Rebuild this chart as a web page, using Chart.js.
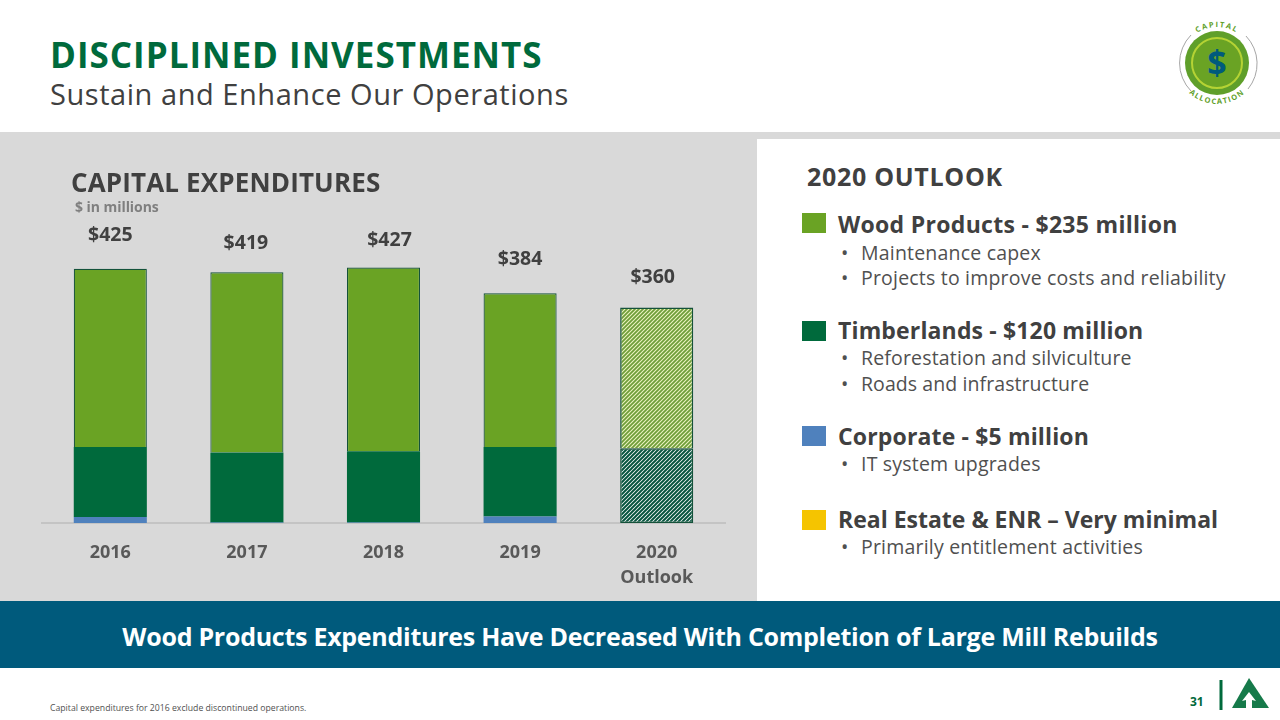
<!DOCTYPE html>
<html><head><meta charset="utf-8">
<script src="https://cdn.jsdelivr.net/npm/chart.js@4"></script>
<style>
html,body{margin:0;padding:0;background:#fff;width:1280px;height:720px;overflow:hidden;font-family:"Open Sans",sans-serif}
.a{position:absolute;white-space:nowrap}
#chartWrap{position:absolute;left:0;top:132px;width:757px;height:469px}
.sq{position:absolute;left:802px;width:24px;height:20px}
.h{left:838px;font-size:23px;font-weight:700;color:#404040;line-height:30px;letter-spacing:.3px}
.b{left:861px;font-size:19.5px;color:#505050;line-height:26px;letter-spacing:.2px}
.b:before{content:"•";position:absolute;left:-20px}
</style></head><body>
<div class="a" style="left:0;top:132px;width:1280px;height:7px;background:#d9d9d9"></div>
<div class="a" style="left:0;top:132px;width:757px;height:469px;background:#d9d9d9"></div>
<div class="a" style="left:0;top:601px;width:1280px;height:67px;background:#005a7c"></div>

<div class="a" id="t1" style="left:50px;top:31px;font-size:35px;font-weight:700;color:#006a3c;line-height:48px;letter-spacing:1px">DISCIPLINED INVESTMENTS</div>
<div class="a" id="t2" style="left:50px;top:74px;font-size:29px;color:#404040;line-height:40px;letter-spacing:.55px">Sustain and Enhance Our Operations</div>

<div id="chartWrap"><canvas id="c" width="757" height="469"></canvas></div>
<div class="a" style="left:71px;top:165px;font-size:26px;font-weight:700;color:#404040;line-height:34px;letter-spacing:.15px">CAPITAL EXPENDITURES</div>
<div class="a" style="left:75px;top:197px;font-size:14px;font-weight:700;color:#7f7f7f;line-height:20px;letter-spacing:-.05px">$ in millions</div>

<div class="a" style="left:807px;top:159px;font-size:25px;font-weight:700;color:#404040;line-height:34px;letter-spacing:.7px">2020 OUTLOOK</div>
<div class="sq" style="top:213px;background:#6aa324"></div>
<div class="a h" style="top:209px">Wood Products - $235 million</div>
<div class="a b" style="top:240px">Maintenance capex</div>
<div class="a b" style="top:265px">Projects to improve costs and reliability</div>
<div class="sq" style="top:321px;background:#006a3c"></div>
<div class="a h" style="top:315px;letter-spacing:.15px">Timberlands - $120 million</div>
<div class="a b" style="top:345px;letter-spacing:.17px">Reforestation and silviculture</div>
<div class="a b" style="top:371px;letter-spacing:.08px">Roads and infrastructure</div>
<div class="sq" style="top:426px;background:#4f81bd"></div>
<div class="a h" style="top:421px;letter-spacing:.15px">Corporate - $5 million</div>
<div class="a b" style="top:451px">IT system upgrades</div>
<div class="sq" style="top:510px;background:#f5c400"></div>
<div class="a h" style="top:504px;letter-spacing:0">Real Estate &amp; ENR – Very minimal</div>
<div class="a b" style="top:534px">Primarily entitlement activities</div>

<div class="a" style="left:0;width:1280px;top:601px;height:71px;line-height:71px;text-align:center;font-size:25px;font-weight:700;color:#fff;letter-spacing:-.27px">Wood Products Expenditures Have Decreased With Completion of Large Mill Rebuilds</div>
<div class="a" style="left:50px;top:701px;font-size:8.7px;color:#505050;line-height:14px">Capital expenditures for 2016 exclude discontinued operations.</div>
<div class="a" style="left:1190px;top:693px;font-size:12px;font-weight:700;color:#006a3c;line-height:18px">31</div>

<svg class="a" style="left:1170px;top:15px" width="100" height="100" viewBox="0 0 100 100">
  <path d="M21 20 A40 40 0 0 0 21 76" fill="none" stroke="#a6a6a6" stroke-width="1"/>
  <path d="M76 21 A40 40 0 0 1 78 74" fill="none" stroke="#a6a6a6" stroke-width="1"/>
  <circle cx="47" cy="48" r="32" fill="#5f9f2a"/>
  <circle cx="47" cy="48" r="25" fill="#6aa324" stroke="#b5d334" stroke-width="2"/>
  <text x="47" y="60" text-anchor="middle" font-family="Open Sans" font-weight="700" font-size="34" fill="#005a7c">$</text>
  <path id="arcT" d="M11 48 A36 36 0 0 1 83 48" fill="none"/>
  <path id="arcB" d="M6 48 A41 41 0 0 0 88 48" fill="none"/>
  <text font-family="Open Sans" font-weight="700" font-size="7.5" letter-spacing="1.6" fill="#5f9f2a" text-anchor="middle"><textPath href="#arcT" startOffset="50%">CAPITAL</textPath></text>
  <text font-family="Open Sans" font-weight="700" font-size="7.5" letter-spacing="1.3" fill="#5f9f2a" text-anchor="middle"><textPath href="#arcB" startOffset="50%">ALLOCATION</textPath></text>
</svg>
<svg class="a" style="left:1215px;top:675px" width="60" height="40" viewBox="0 0 60 40">
  <rect x="4.5" y="5" width="3" height="30" fill="#006a3c"/>
  <path d="M34 3 L54 33 L17 33 Z" fill="#167a4a"/>
  <path d="M34 17 L41 26 L37 25 L37 33 L31 33 L31 25 L27 26 Z" fill="#fff"/>
</svg>

<script>
const categories = ["2016","2017","2018","2019",["2020","Outlook"]];
const corporate   = [10, 1, 1, 11, 5];
const timberlands = [117, 117, 119, 116, 120];
const woodProducts= [298, 301, 307, 257, 235];
const totals = ["$425","$419","$427","$384","$360"];
const labelLift = [22, 18, 16, 23, 19];
const labelNudge = [0, -1, 6, 0, -4];

function hatch(bg, fg, w){
  const s = 4, p = document.createElement('canvas');
  p.width = p.height = s;
  const g = p.getContext('2d');
  g.fillStyle = bg; g.fillRect(0,0,s,s);
  g.strokeStyle = fg; g.lineWidth = w;
  g.beginPath();
  g.moveTo(-1,1); g.lineTo(1,-1);
  g.moveTo(-1,5); g.lineTo(5,-1);
  g.moveTo(3,5); g.lineTo(5,3);
  g.stroke();
  return g.createPattern(p,'repeat');
}
const ctx = document.getElementById('c').getContext('2d');
const woodHatch = hatch('#eef5c4','#6f9e3a',1.8);
const timberHatch = hatch('#ffffff','#07553f',2);
const solidThen = (c,h)=>[c,c,c,c,h];
const darkEdge = '#14523a';

const totalsPlugin = {
  id:'totals',
  afterDatasetsDraw(chart){
    const g = chart.ctx, top = chart.getDatasetMeta(2).data;
    g.save();
    g.font = '700 19.5px "Open Sans"';
    g.fillStyle = '#404040';
    g.textAlign = 'center'; g.textBaseline = 'middle';
    top.forEach((el,i)=> g.fillText(totals[i], el.x + labelNudge[i], el.y - labelLift[i] - 11));
    g.restore();
  }
};
const noBottom = {top:1.2,left:1.2,right:1.2,bottom:0};
new Chart(ctx,{
  type:'bar',
  data:{labels:categories,datasets:[
    {label:'Corporate',data:corporate,backgroundColor:solidThen('#4f81bd',timberHatch),borderColor:darkEdge,
      borderSkipped:false,borderWidth:[0,0,0,0,{top:0,left:1.5,right:1.5,bottom:1.5}]},
    {label:'Timberlands',data:timberlands,backgroundColor:solidThen('#006a3c',timberHatch),borderColor:darkEdge,
      borderSkipped:false,borderWidth:[0,0,0,0,{top:1.5,left:1.5,right:1.5,bottom:0}]},
    {label:'Wood Products',data:woodProducts,backgroundColor:solidThen('#6aa324',woodHatch),borderColor:darkEdge,
      borderSkipped:false,borderWidth:[noBottom,noBottom,noBottom,noBottom,{top:1.5,left:1.5,right:1.5,bottom:0}]}
  ]},
  options:{
    responsive:false,animation:false,
    devicePixelRatio:1,
    layout:{padding:{left:42,right:32,top:32,bottom:0}},
    plugins:{legend:{display:false},tooltip:{enabled:false}},
    datasets:{bar:{barPercentage:.535,categoryPercentage:1}},
    scales:{
      x:{stacked:true,
        grid:{display:false,drawTicks:false},
        border:{display:true,color:'#c4c4c4',width:2},
        afterFit(s){s.height=78;},
        ticks:{padding:17,color:'#595959',font:{family:'"Open Sans"',size:18,weight:'700',lineHeight:1.4},maxRotation:0}
      },
      y:{stacked:true,display:false,min:0,max:600}
    }
  },
  plugins:[totalsPlugin]
});
</script>
</body></html>
